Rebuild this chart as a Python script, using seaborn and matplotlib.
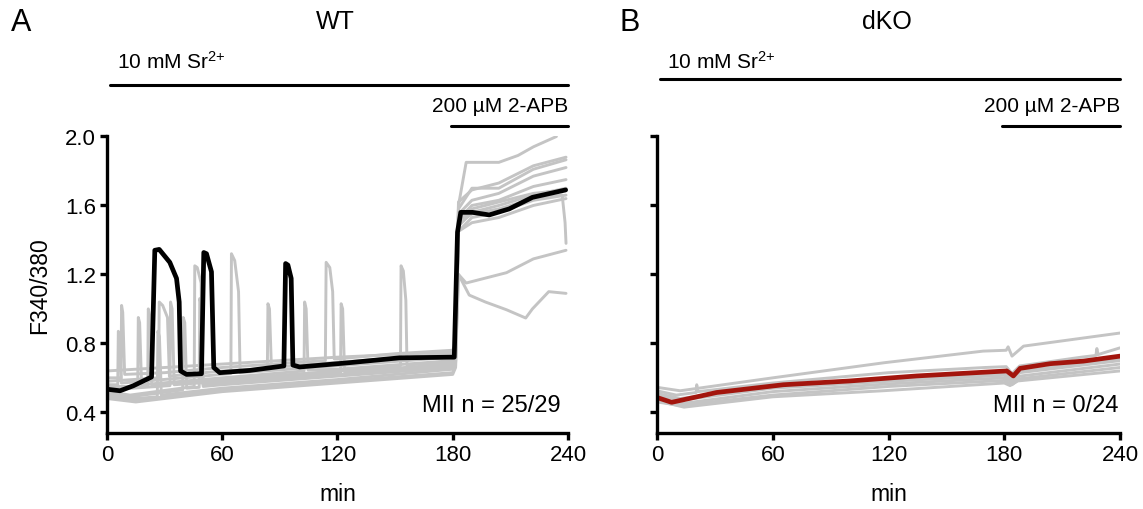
import seaborn as sns
import matplotlib.pyplot as plt
import pandas as pd

# ---- data (time in min, F340/380 ratio) ----
wt_black_t = [0, 6.8, 13.7, 23.2, 24.9, 27.2, 32.7, 36.2, 37.6, 38.3, 41.4, 49.2,
              50.4, 51.8, 54.4, 55.6, 58.7, 74.3, 92.1, 93.0, 94.2, 95.9, 96.8,
              100.3, 126.2, 152.2, 180.8, 182.5, 184.2, 190.3, 199.0, 209.4,
              221.5, 238.8]
wt_black_v = [0.534, 0.525, 0.554, 0.605, 1.34, 1.345, 1.27, 1.177, 1.04, 0.64,
              0.62, 0.624, 1.327, 1.32, 1.215, 0.66, 0.63, 0.643, 0.669, 1.263,
              1.254, 1.177, 0.674, 0.663, 0.688, 0.716, 0.72, 1.446, 1.56, 1.56,
              1.545, 1.58, 1.647, 1.69]

wt_gray = [
    [(0, 0.60), (7.3, 0.60), (7.6, 1.02), (8.2, 0.98), (9.2, 0.62), (30, 0.63),
     (60, 0.66), (113.7, 0.70), (114.1, 1.27), (116, 1.24), (117.5, 1.10),
     (118.3, 0.71), (120, 0.71), (150, 0.74), (180, 0.76), (181.5, 0.80),
     (183, 1.60), (187, 1.85), (204, 1.85), (214, 1.89), (222, 1.94), (234, 2.0)],
    [(0, 0.58), (26.9, 0.60), (27.2, 1.04), (29, 1.02), (31.5, 0.95), (32.5, 0.61),
     (60, 0.64), (83.5, 0.655), (83.8, 1.03), (84.6, 1.0), (85.6, 0.66), (120, 0.69),
     (180, 0.74), (181.5, 0.78), (183, 1.58), (190, 1.70), (204, 1.70), (222, 1.81),
     (239, 1.865)],
    [(0, 0.56), (5.6, 0.56), (5.9, 0.87), (6.6, 0.84), (7.5, 0.57), (40, 0.60),
     (64.5, 0.625), (64.8, 1.32), (66.5, 1.28), (68.5, 1.10), (69.3, 0.63),
     (120, 0.67), (180, 0.72), (181.5, 0.76), (183, 1.55), (190, 1.63), (204, 1.67),
     (222, 1.77), (239, 1.82)],
    [(0, 0.55), (16, 0.55), (16.3, 0.95), (17, 0.92), (18, 0.56), (60, 0.60),
     (102.6, 0.64), (102.9, 1.04), (103.7, 1.0), (104.7, 0.645), (120, 0.65),
     (180, 0.70), (181.5, 0.74), (183, 1.52), (190, 1.60), (204, 1.63), (222, 1.71),
     (239, 1.75)],
    [(0, 0.54), (21.2, 0.55), (21.5, 1.0), (22.3, 0.96), (23.3, 0.56), (60, 0.59),
     (120, 0.64), (152.8, 0.67), (153.1, 1.25), (154.3, 1.22), (155.6, 1.05),
     (156.2, 0.675), (180, 0.69), (181.5, 0.73), (183, 1.50), (190, 1.55),
     (204, 1.58), (222, 1.64), (237, 1.66), (238.5, 1.50), (239, 1.38)],
    [(0, 0.53), (32.8, 0.555), (33.1, 1.04), (33.9, 1.0), (35, 0.56), (60, 0.58),
     (121.6, 0.63), (121.9, 1.03), (122.7, 1.0), (123.7, 0.635), (180, 0.68),
     (181.5, 0.72), (183, 1.45), (190, 1.50), (204, 1.53), (222, 1.60), (239, 1.64)],
    [(0, 0.52), (12, 0.50), (45.4, 0.55), (45.7, 1.25), (47, 1.24), (49, 1.15),
     (50, 0.56), (60, 0.57), (120, 0.62), (180, 0.67), (181.5, 0.72), (183, 1.20),
     (187, 1.15), (208, 1.21), (222, 1.29), (239, 1.34)],
    [(0, 0.51), (12, 0.49), (39.4, 0.53), (39.7, 0.95), (40.5, 0.92), (41.5, 0.54),
     (48, 0.545), (48.3, 1.06), (49.1, 1.02), (50.1, 0.55), (60, 0.56), (120, 0.61),
     (180, 0.66), (181.5, 0.70), (183, 1.20), (188.6, 1.08), (197, 1.04),
     (208, 0.995), (218, 0.947), (221.5, 1.0), (230, 1.10), (239, 1.09)],
    [(0, 0.50), (15, 0.48), (26.2, 0.49), (26.5, 0.87), (27.3, 0.84), (28.3, 0.50),
     (60, 0.54), (120, 0.59), (180, 0.65), (181.5, 0.69), (183, 1.48), (190, 1.56),
     (204, 1.60), (222, 1.66), (239, 1.70)],
    [(0, 0.49), (15, 0.47), (60, 0.53), (120, 0.58), (180, 0.63), (181.5, 0.67),
     (183, 1.45), (190, 1.53), (204, 1.56), (222, 1.63), (239, 1.66)],
    [(0, 0.48), (15, 0.46), (60, 0.52), (120, 0.57), (180, 0.62), (181.5, 0.66),
     (183, 1.50), (190, 1.58), (204, 1.62), (222, 1.67), (239, 1.69)],
    [(0, 0.64), (60, 0.68), (120, 0.72), (180, 0.75), (181.5, 0.79), (183, 1.62),
     (190, 1.69), (204, 1.73), (222, 1.83), (239, 1.88)],
]

dko_red_t = [0, 7.6, 30.9, 65.5, 100.0, 134.6, 181.3, 184.7, 188.2, 203.7, 221.0, 240]
dko_red_v = [0.486, 0.458, 0.515, 0.56, 0.582, 0.611, 0.64, 0.611, 0.655, 0.682,
             0.697, 0.726]

dko_gray = [
    [(0, 0.545), (12, 0.525), (60, 0.60), (118, 0.688), (169, 0.755), (181, 0.76),
     (182, 0.78), (184, 0.726), (190, 0.784), (240, 0.86)],
    [(0, 0.525), (10, 0.50), (20.3, 0.515), (20.6, 0.56), (21.2, 0.52), (60, 0.57),
     (120, 0.63), (170, 0.66), (181, 0.665), (184, 0.625), (188, 0.669), (220, 0.72),
     (227.5, 0.73), (228, 0.77), (228.6, 0.735), (240, 0.774)],
    [(0, 0.467), (14, 0.43), (60, 0.49), (117, 0.525), (180, 0.57), (183, 0.555),
     (187, 0.582), (240, 0.64)],
    [(0, 0.50), (12, 0.47), (60, 0.54), (120, 0.58), (180, 0.615), (184, 0.59),
     (188, 0.63), (240, 0.70)],
    [(0, 0.48), (12, 0.45), (60, 0.52), (120, 0.565), (180, 0.60), (184, 0.575),
     (188, 0.61), (240, 0.68)],
    [(0, 0.51), (12, 0.48), (60, 0.55), (120, 0.59), (180, 0.625), (184, 0.595),
     (188, 0.64), (240, 0.71)],
    [(0, 0.46), (12, 0.44), (60, 0.50), (120, 0.55), (180, 0.585), (184, 0.56),
     (188, 0.595), (240, 0.66)],
]

x_ticks = [0, 60, 120, 180, 240]
y_ticks = [0.4, 0.8, 1.2, 1.6, 2.0]
titles = ["WT", "dKO"]
panel_letters = ["A", "B"]
counts = ["MII n = 25/29", "MII n = 0/24"]

GRAY = "#c4c4c4"
RED = "#a3150d"


def to_frame(traces):
    rows = []
    for i, tr in enumerate(traces):
        for t, v in tr:
            rows.append({"trace": i, "t": t, "v": v})
    return pd.DataFrame(rows)


sns.set_theme(style="ticks")
plt.rcParams["font.family"] = ["Liberation Sans", "DejaVu Sans"]
plt.rcParams["mathtext.fontset"] = "custom"
plt.rcParams["mathtext.rm"] = "Liberation Sans"
plt.rcParams["mathtext.it"] = "Liberation Sans:italic"
for key in ["text.color", "axes.labelcolor", "xtick.color", "ytick.color",
            "axes.edgecolor"]:
    plt.rcParams[key] = "black"

fig = plt.figure(figsize=(11.43, 5.10), dpi=100)
axA = fig.add_axes([0.0936, 0.149, 0.4033, 0.5814])
axB = fig.add_axes([0.5748, 0.149, 0.4051, 0.5814])

sns.lineplot(data=to_frame(wt_gray), x="t", y="v", units="trace", estimator=None,
             sort=False, color=GRAY, lw=2.1, ax=axA)
sns.lineplot(x=wt_black_t, y=wt_black_v, sort=False, color="black", lw=3.4, ax=axA)

sns.lineplot(data=to_frame(dko_gray), x="t", y="v", units="trace", estimator=None,
             sort=False, color=GRAY, lw=2.1, ax=axB)
sns.lineplot(x=dko_red_t, y=dko_red_v, sort=False, color=RED, lw=3.4, ax=axB)

sr_bar_y = [2.301, 2.336]
for k, ax in enumerate([axA, axB]):
    ax.set_xlim(0, 240)
    ax.set_ylim(0.28, 2.0)
    ax.set_xticks(x_ticks)
    ax.set_yticks(y_ticks)
    ax.set_xticklabels([str(x) for x in x_ticks])
    if k == 0:
        ax.set_yticklabels([f"{y:.1f}" for y in y_ticks])
        ax.set_ylabel("F340/380", fontsize=16.5, labelpad=10)
    else:
        ax.set_yticklabels([])
        ax.set_ylabel("")
    ax.set_xlabel("min", fontsize=16.5, labelpad=12)
    sns.despine(ax=ax)
    for s in ["left", "bottom"]:
        ax.spines[s].set_linewidth(2.4)
    ax.tick_params(width=2.4, length=5, labelsize=16, pad=3, direction="out")
    ax.text(236 if k == 0 else 239, 0.44, counts[k], ha="right", va="center",
            fontsize=17)
    # treatment bars
    ax.plot([1.5, 240], [sr_bar_y[k]] * 2, color="black", lw=2.2, clip_on=False)
    ax.text(5, 2.40, "10 mM Sr$^{2{+}}$", fontsize=15, ha="left", va="baseline")
    ax.plot([179, 240], [2.06, 2.06], color="black", lw=2.2, clip_on=False)
    ax.text(240, 2.15, "200 µM 2-APB", fontsize=15, ha="right", va="baseline")

fig.text(0.293, 0.957, titles[0], ha="center", va="center", fontsize=18)
fig.text(0.776, 0.957, titles[1], ha="center", va="center", fontsize=18)
fig.text(0.0184, 0.955, panel_letters[0], ha="center", va="center", fontsize=22)
fig.text(0.551, 0.955, panel_letters[1], ha="center", va="center", fontsize=22)

fig.savefig("out.png", dpi=100)
